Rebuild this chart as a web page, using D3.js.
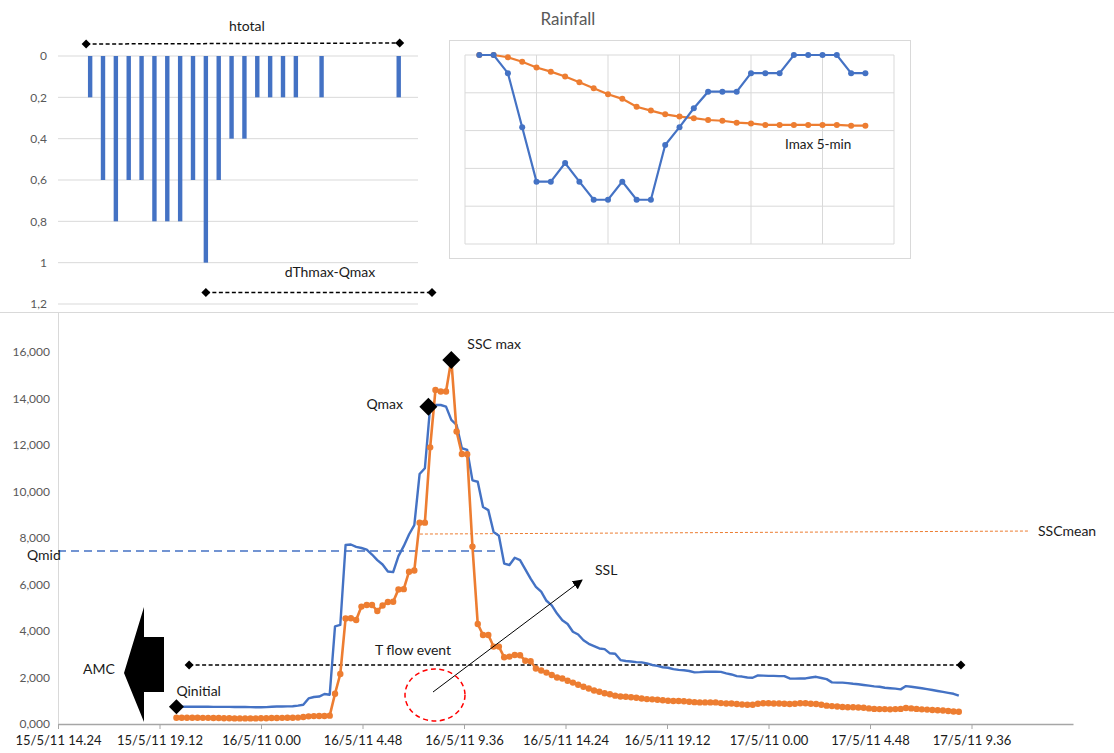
<!DOCTYPE html>
<html><head><meta charset="utf-8">
<script src="https://cdn.jsdelivr.net/npm/d3@7"></script>
<style>
body{margin:0;background:#fff;}
svg{display:block;font-family:Lato,"Open Sans",sans-serif;}
</style></head>
<body><svg id="c" width="1114" height="753"></svg>
<script>
// ---------------- DATA ----------------
// top-left: htotal bars (28 category slots, 0 = no bar)
const hSlots = [0,0,0.2,0.6,0.8,0.6,0.6,0.8,0.8,0.8,0.6,1.0,0.6,0.4,0.4,0.2,0.2,0.2,0.2,0,0.2,0,0,0,0,0,0.2,0];
const hTicks = [0,0.2,0.4,0.6,0.8,1,1.2];
const hTickLabels = ["0","0,2","0,4","0,6","0,8","1","1,2"];

// Rainfall panel (category positions 1..28 on a 0..30 axis, values in grid units, 0 at top)
const rainBlue   = [0,0,0.48,1.91,3.35,3.35,2.86,3.35,3.83,3.83,3.35,3.83,3.83,2.38,1.91,1.41,0.97,0.97,0.97,0.48,0.48,0.48,0,0,0,0,0.48,0.48];
const rainOrange = [0,0,0.06,0.18,0.33,0.44,0.57,0.72,0.88,1.04,1.16,1.37,1.47,1.57,1.63,1.67,1.72,1.74,1.79,1.81,1.85,1.85,1.85,1.85,1.85,1.85,1.87,1.87];

// Main chart: 15-minute series starting 15/5/11 20:00
const seriesStart = new Date(2011,4,15,20,0);
const stepMinutes = 15;
const discharge = [
740,742,745,745,745,743,740,738,736,735,735,733,730,728,725,722,720,
725,740,750,755,760,765,790,830,1100,1160,1180,1290,1260,
4200,4260,7700,7720,7620,7570,7500,7290,7050,6860,6560,6530,7220,7650,8150,8550,10750,11000,
13650,13720,13720,13650,13080,12860,11860,11790,10480,10420,9330,9200,8260,8100,6900,6840,
7150,7050,6650,6250,5900,5690,5300,5100,4750,4460,4300,3970,3850,3600,3450,3350,
3250,3220,3040,3020,2750,2710,2690,2660,2650,2610,2540,2500,2440,2420,2360,2330,2310,2280,2220,2230,
2250,2250,2250,2240,2180,2130,2060,2040,2000,1990,2090,2080,2070,2070,2060,2060,1960,1950,1960,1960,
2000,2030,1980,1930,1790,1780,1780,1760,1730,1710,1680,1650,1620,1600,1560,1540,1520,1490,1630,1600,1570,1540,1500,1460,1420,1380,1340,1300,1220];
const ssc = [
270,270,270,270,270,265,265,260,255,250,245,240,240,240,240,240,245,250,255,260,265,270,270,275,
300,330,340,345,345,360,1300,2150,4540,4550,4470,5050,5120,5120,4860,5100,5250,5260,5790,5800,6550,6600,8660,8660,
11900,14370,14300,14300,15660,12580,11610,11600,7630,4300,3830,3830,3330,3330,2870,2900,
2970,2960,2720,2700,2390,2300,2210,2110,2000,1960,1860,1780,1690,1600,1530,1440,
1390,1320,1280,1220,1180,1170,1150,1130,1100,1070,1060,1040,1020,1000,990,990,980,960,940,930,
930,930,930,900,880,880,860,840,830,830,870,890,890,880,880,870,860,870,890,890,
870,860,830,790,770,750,730,720,720,710,700,670,650,640,640,630,640,650,690,670,650,630,620,600,590,580,560,540,530];

const xDomain = [new Date(2011,4,15,14,24), new Date(2011,4,17,14,24)];
const xTickLabels = ["15/5/11 14.24","15/5/11 19.12","16/5/11 0.00","16/5/11 4.48","16/5/11 9.36","16/5/11 14.24","16/5/11 19.12","17/5/11 0.00","17/5/11 4.48","17/5/11 9.36"];
const yTicks = [0,2000,4000,6000,8000,10000,12000,14000,16000];
const yTickLabels = ["0,000","2,000","4,000","6,000","8,000","10,000","12,000","14,000","16,000"];

// key points
const markerNames  = ["Qinitial","Qmax","SSC max"];
const markerTimes  = [new Date(2011,4,15,20,0), new Date(2011,4,16,7,55), new Date(2011,4,16,9,0)];
const markerValues = [740,13650,15660];
const qMid = 7440;
const qMidEnd = new Date(2011,4,16,11,18);
const sscMeanTimes = [new Date(2011,4,16,7,31), new Date(2011,4,17,12,22)];
const sscMeanValues = [8170,8300];
const tFlowTimes = [new Date(2011,4,15,20,36), new Date(2011,4,17,9,6)];
const tFlowValue = 2540;

// ---------------- DRAW ----------------
const svg = d3.select("#c");
const BLUE="#4472C4", ORANGE="#ED7D31", GRID="#d9d9d9", LABEL="#595959", TXT="#1a1a1a";

// ===== top-left bar chart =====
const hx = d3.scaleBand().domain(d3.range(hSlots.length)).range([58,418]);
const hy = d3.scaleLinear().domain([0,1.2]).range([56,304]);
const g1 = svg.append("g");
g1.selectAll("line.g").data(hTicks).join("line")
  .attr("x1",58).attr("x2",418).attr("y1",d=>hy(d)).attr("y2",d=>hy(d))
  .attr("stroke",GRID).attr("stroke-width",1);
g1.selectAll("text.t").data(hTicks).join("text")
  .attr("x",47).attr("y",d=>hy(d)).attr("dy","0.35em").attr("text-anchor","end")
  .attr("fill",LABEL).attr("font-size",12).text((d,i)=>hTickLabels[i]);
g1.selectAll("rect").data(hSlots.map((v,i)=>({v,i})).filter(d=>d.v>0)).join("rect")
  .attr("x",d=>hx(d.i)+hx.bandwidth()/2-2.2).attr("width",4.4)
  .attr("y",hy(0)).attr("height",d=>hy(d.v)-hy(0)).attr("fill",BLUE);

function diamond(g,cx,cy,r){
  g.append("path").attr("d",`M${cx},${cy-r}L${cx+r},${cy}L${cx},${cy+r}L${cx-r},${cy}Z`).attr("fill","#000");
}
function dimLine(g,x1,y1,x2,y2){
  g.append("line").attr("x1",x1).attr("y1",y1).attr("x2",x2).attr("y2",y2)
   .attr("stroke","#000").attr("stroke-width",1.5).attr("stroke-dasharray","4,2.5");
  diamond(g,x1,y1,4.5); diamond(g,x2,y2,4.5);
}
dimLine(g1, hx(2)+hx.bandwidth()/2-4, 44, hx(26)+hx.bandwidth()/2+1, 43);
g1.append("text").attr("x",247).attr("y",26).attr("dy","0.35em").attr("text-anchor","middle")
  .attr("font-size",14).attr("fill",TXT).text("htotal");
dimLine(g1, hx(11)+hx.bandwidth()/2, 292.5, 432, 292.5);
g1.append("text").attr("x",330).attr("y",272).attr("dy","0.35em").attr("text-anchor","middle")
  .attr("font-size",14).attr("fill",TXT).text("dThmax-Qmax");

// ===== Rainfall panel =====
const g2 = svg.append("g");
g2.append("rect").attr("x",449.5).attr("y",40.5).attr("width",461).attr("height",218)
  .attr("fill","none").attr("stroke",GRID);
g2.append("text").attr("x",568).attr("y",19).attr("dy","0.35em").attr("text-anchor","middle")
  .attr("font-size",17).attr("fill",LABEL).text("Rainfall");
const rx = d3.scaleLinear().domain([0,30]).range([465,894]);
const ry = d3.scaleLinear().domain([0,5]).range([55,244]);
g2.selectAll("line.h").data(d3.range(0,6)).join("line")
  .attr("x1",465).attr("x2",894).attr("y1",d=>ry(d)).attr("y2",d=>ry(d)).attr("stroke",GRID);
g2.selectAll("line.v").data(d3.range(0,31,5)).join("line")
  .attr("y1",55).attr("y2",244).attr("x1",d=>rx(d)).attr("x2",d=>rx(d)).attr("stroke",GRID);
[[rainOrange,ORANGE],[rainBlue,BLUE]].forEach(([arr,col])=>{
  const pts = arr.map((v,i)=>[rx(i+1),ry(v)]);
  g2.append("path").attr("d",d3.line()(pts)).attr("fill","none").attr("stroke",col).attr("stroke-width",2.2);
  g2.selectAll(null).data(pts).join("circle").attr("cx",d=>d[0]).attr("cy",d=>d[1]).attr("r",3).attr("fill",col);
});
g2.append("text").attr("x",785).attr("y",144).attr("dy","0.35em").attr("font-size",13.5).attr("fill",TXT).text("Imax 5-min");

// ===== Main chart =====
const g3 = svg.append("g");
const x = d3.scaleTime().domain(xDomain).range([58,1073]);
const y = d3.scaleLinear().domain([0,16000]).range([724,352]);
const tOf = i => new Date(seriesStart.getTime() + i*stepMinutes*60000);

g3.append("line").attr("x1",0).attr("x2",1114).attr("y1",312.5).attr("y2",312.5).attr("stroke",GRID);
g3.append("line").attr("x1",58.5).attr("x2",58.5).attr("y1",312).attr("y2",724).attr("stroke",GRID);

// y labels
g3.selectAll("text.y").data(yTicks).join("text")
  .attr("x",50).attr("y",d=>y(d)).attr("dy","0.35em").attr("text-anchor","end")
  .attr("font-size",12).attr("fill",LABEL).text((d,i)=>yTickLabels[i]);

// x axis
const tickTimes = xTickLabels.map((s,i)=>new Date(xDomain[0].getTime()+i*4.8*3600000));
const xAxis = d3.axisBottom(x).tickValues(tickTimes).tickFormat((d,i)=>xTickLabels[i]).tickSize(5).tickSizeOuter(0);
const ax = g3.append("g").attr("transform","translate(0,724)").call(xAxis);
ax.select(".domain").attr("stroke","#a6a6a6").attr("stroke-width",1.5);
ax.selectAll(".tick line").attr("stroke","#a6a6a6");
ax.selectAll(".tick text").attr("font-size",13).attr("fill",TXT).attr("font-family","Lato,'Open Sans',sans-serif").attr("dy","1.0em");

// reference lines
g3.append("line").attr("x1",x(xDomain[0])).attr("x2",x(qMidEnd)).attr("y1",y(qMid)).attr("y2",y(qMid))
  .attr("stroke",BLUE).attr("stroke-width",1.5).attr("stroke-dasharray","8,5");
g3.append("text").attr("x",27).attr("y",y(qMid)+4).attr("dy","0.35em").attr("font-size",14).attr("fill",TXT).text("Qmid");
g3.append("line").attr("x1",x(sscMeanTimes[0])).attr("x2",x(sscMeanTimes[1])).attr("y1",y(sscMeanValues[0])).attr("y2",y(sscMeanValues[1]))
  .attr("stroke",ORANGE).attr("stroke-width",1).attr("stroke-dasharray","3,2");
g3.append("text").attr("x",x(sscMeanTimes[1])+8).attr("y",y(sscMeanValues[1])).attr("dy","0.35em").attr("font-size",14).attr("fill",TXT).text("SSCmean");

dimLine(g3, x(tFlowTimes[0]), y(tFlowValue), x(tFlowTimes[1]), y(tFlowValue));
g3.append("text").attr("x",413).attr("y",650).attr("dy","0.35em").attr("text-anchor","middle").attr("font-size",14).attr("fill",TXT).text("T flow event");

// series
const qPts = discharge.map((v,i)=>[x(tOf(i)),y(v)]);
const sPts = ssc.map((v,i)=>[x(tOf(i)),y(v)]);
g3.append("path").attr("d",d3.line()(qPts)).attr("fill","none").attr("stroke",BLUE).attr("stroke-width",2.4).attr("stroke-linejoin","round");
g3.append("path").attr("d",d3.line()(sPts)).attr("fill","none").attr("stroke",ORANGE).attr("stroke-width",2.6).attr("stroke-linejoin","round");
g3.selectAll("circle.s").data(sPts).join("circle").attr("cx",d=>d[0]).attr("cy",d=>d[1]).attr("r",3.2).attr("fill",ORANGE);

// markers
const mr = [7.5,9,9];
markerNames.forEach((n,i)=>diamond(g3,x(markerTimes[i]),y(markerValues[i]),mr[i]));
g3.append("text").attr("x",x(markerTimes[0])).attr("y",691).attr("dy","0.35em").attr("font-size",14).attr("fill",TXT).text("Qinitial");
g3.append("text").attr("x",x(markerTimes[1])-62).attr("y",404).attr("dy","0.35em").attr("font-size",14).attr("fill",TXT).text("Qmax");
g3.append("text").attr("x",x(markerTimes[2])+16).attr("y",344).attr("dy","0.35em").attr("font-size",14).attr("fill",TXT).text("SSC max");

// AMC arrow
g3.append("path").attr("d","M124,673L144,607L144,637L164,637L164,692L144,692L144,722Z").attr("fill","#000");
g3.append("text").attr("x",83).attr("y",669).attr("dy","0.35em").attr("font-size",14).attr("fill",TXT).text("AMC");

// SSL arrow + ellipse
const defs = svg.append("defs");
defs.append("marker").attr("id","ah").attr("viewBox","0 0 10 10").attr("refX",9).attr("refY",5)
  .attr("markerWidth",10).attr("markerHeight",10).attr("markerUnits","userSpaceOnUse").attr("orient","auto")
  .append("path").attr("d","M0,0L10,5L0,10Z").attr("fill","#000");
g3.append("line").attr("x1",433).attr("y1",692).attr("x2",582).attr("y2",580).attr("stroke","#000").attr("stroke-width",1).attr("marker-end","url(#ah)");
g3.append("text").attr("x",595).attr("y",570).attr("dy","0.35em").attr("font-size",14).attr("fill",TXT).text("SSL");
g3.append("ellipse").attr("cx",435).attr("cy",695).attr("rx",30).attr("ry",26)
  .attr("fill","none").attr("stroke","#ff0000").attr("stroke-width",1.5).attr("stroke-dasharray","5,3.5");
</script></body></html>
